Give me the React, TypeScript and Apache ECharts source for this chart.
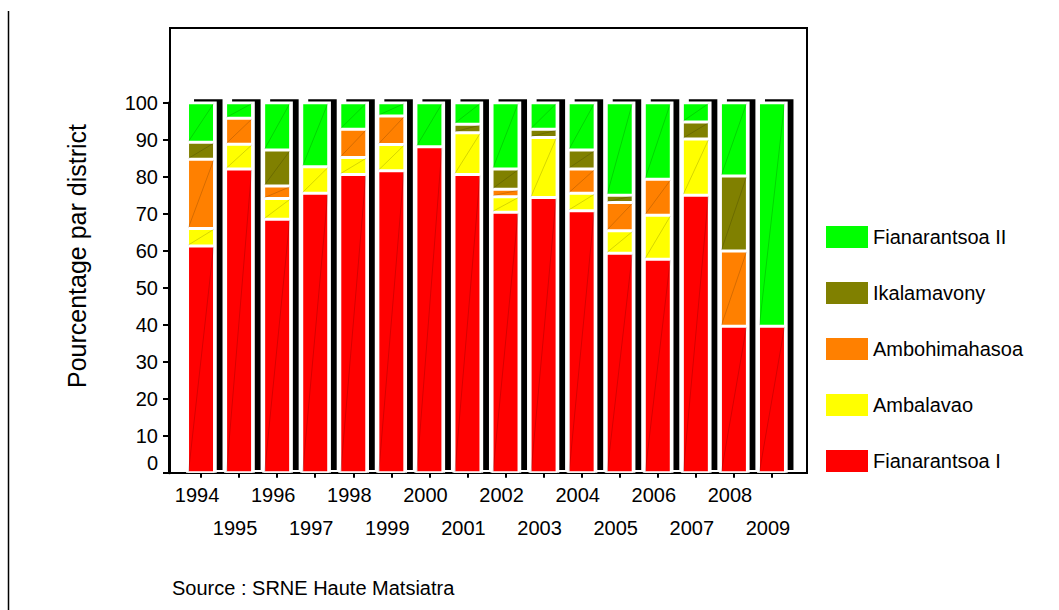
import React, { useEffect, useRef } from 'react';
import * as echarts from 'echarts';

const years = ['1994', '1995', '1996', '1997', '1998', '1999', '2000', '2001', '2002', '2003', '2004', '2005', '2006', '2007', '2008', '2009'];
const fianarantsoaI = [61.3, 82.1, 68.5, 75.5, 80.6, 81.6, 88.1, 80.6, 70.4, 74.4, 70.8, 59.3, 57.7, 75.0, 39.6, 39.6];
const ambalavao = [4.7, 6.7, 5.6, 7.2, 4.6, 7.1, 0, 11.3, 4.2, 16.2, 4.7, 6.1, 11.9, 15.2, 0, 0];
const ambohimahasoa = [18.7, 7.0, 3.4, 0, 7.6, 7.7, 0, 0, 2.0, 0, 6.6, 7.6, 9.7, 0, 20.3, 0];
const ikalamavony = [4.6, 0, 9.7, 0, 0, 0, 0, 2.3, 5.5, 2.2, 5.1, 2.0, 0, 4.6, 20.3, 0];
const fianarantsoaII = [10.7, 4.2, 12.8, 17.3, 7.2, 3.6, 11.9, 5.8, 17.9, 7.2, 12.8, 25.0, 20.7, 5.2, 19.8, 60.4];

const seriesNames = ['Fianarantsoa I', 'Ambalavao', 'Ambohimahasoa', 'Ikalamavony', 'Fianarantsoa II'];
const seriesValues = [fianarantsoaI, ambalavao, ambohimahasoa, ikalamavony, fianarantsoaII];
const seriesColors = ['#FF0000', '#FFFF00', '#FF8000', '#808000', '#00FF00'];
const legendOrder = ['Fianarantsoa II', 'Ikalamavony', 'Ambohimahasoa', 'Ambalavao', 'Fianarantsoa I'];

const yTitle = 'Pourcentage par district';
const sourceText = 'Source : SRNE Haute Matsiatra';

const FONT = '"Liberation Sans", Arial, sans-serif';
const BAR_W = 27;

export default function App() {
  const ref = useRef<HTMLDivElement>(null);

  useEffect(() => {
    document.body.style.margin = '0';
    if (!ref.current) return;
    const chart = echarts.init(ref.current, null, { renderer: 'svg' });

    const totals = years.map((_, i) => seriesValues.reduce((s, arr) => s + arr[i], 0));
    const segments: number[][] = [];
    years.forEach((_, i) => {
      let acc = 0;
      seriesValues.forEach((arr) => {
        const v = arr[i];
        if (v > 0.5) segments.push([i, acc, acc + v]);
        acc += v;
      });
    });

    const barSeries = seriesNames.map((name, k) => ({
      name,
      type: 'bar',
      stack: 'total',
      data: seriesValues[k],
      barWidth: BAR_W,
      z: 3,
      itemStyle: { color: seriesColors[k], borderColor: '#ffffff', borderWidth: 1.5 },
      emphasis: { disabled: true },
    }));

    const option: any = {
      animation: false,
      textStyle: { fontFamily: FONT },
      grid: { left: 182, right: 268, top: 102.7, bottom: 137.3, containLabel: false },
      legend: {
        data: legendOrder,
        orient: 'vertical',
        left: 826,
        top: 226,
        padding: 0,
        itemWidth: 42,
        itemHeight: 22,
        itemGap: 34,
        icon: 'rect',
        itemStyle: { borderWidth: 0 },
        textStyle: { fontSize: 20, color: '#000', fontFamily: FONT },
        selectedMode: false,
      },
      xAxis: {
        type: 'category',
        data: years,
        boundaryGap: true,
        axisLine: { show: true, lineStyle: { color: '#000', width: 2 } },
        axisTick: { show: true, alignWithLabel: true, length: 5, lineStyle: { color: '#000', width: 2 } },
        axisLabel: {
          interval: 0,
          fontSize: 20,
          color: '#000',
          fontFamily: FONT,
          margin: 6,
          lineHeight: 33,
          padding: [0, 8, 0, 0],
          formatter: (v: string, i: number) => (i % 2 ? '\n' + v : v),
        },
        splitLine: { show: false },
      },
      yAxis: {
        type: 'value',
        min: 0,
        max: 100,
        interval: 10,
        offset: 13,
        axisLine: { show: true, lineStyle: { color: '#000', width: 3 } },
        axisTick: { show: true, length: 6, lineStyle: { color: '#000', width: 2 } },
        axisLabel: {
          fontSize: 20,
          color: '#000',
          fontFamily: FONT,
          margin: 11,
          formatter: (v: number) => (v === 0 ? '{z|0}' : String(v)),
          rich: { z: { fontSize: 20, color: '#000', fontFamily: FONT, padding: [0, 0, 19, 0] } },
        },
        splitLine: { show: false },
      },
      graphic: [
        { type: 'line', shape: { x1: 8.5, y1: 11, x2: 8.5, y2: 610 }, style: { stroke: '#000', lineWidth: 1.5 }, z: 10 },
        { type: 'rect', shape: { x: 170, y: 28, width: 637, height: 445 }, style: { fill: 'none', stroke: '#000', lineWidth: 2 }, z: -1 },
        {
          type: 'text', x: 77, y: 256, rotation: Math.PI / 2,
          style: { text: yTitle, fontSize: 25, fill: '#000', fontFamily: FONT, align: 'center', verticalAlign: 'middle' },
        },
        {
          type: 'text', x: 172, y: 588,
          style: { text: sourceText, fontSize: 20, fill: '#000', fontFamily: FONT, align: 'left', verticalAlign: 'middle' },
        },
      ],
      series: [
        {
          type: 'custom',
          name: 'shadow',
          z: 1,
          silent: true,
          data: years.map((_, i) => [i, totals[i]]),
          encode: { x: 0, y: 1 },
          renderItem: (params: any, api: any) => {
            const i = api.value(0);
            const top = api.coord([i, api.value(1)]);
            const base = api.coord([i, 0]);
            const cx = top[0];
            return {
              type: 'group',
              children: [
                { type: 'rect', shape: { x: cx - 7, y: top[1] - 3.5, width: 28.5, height: base[1] - top[1] + 0.8 }, style: { fill: '#000' } },
                { type: 'rect', shape: { x: cx - 15, y: top[1] - 1.3, width: 30.7, height: base[1] - top[1] + 1.3 }, style: { fill: '#fff' } },
              ],
            };
          },
        },
        ...barSeries,
        {
          type: 'custom',
          name: 'diag',
          z: 5,
          silent: true,
          data: segments,
          encode: { x: 0, y: [1, 2] },
          renderItem: (params: any, api: any) => {
            const i = api.value(0);
            const p0 = api.coord([i, api.value(1)]);
            const p1 = api.coord([i, api.value(2)]);
            const cx = p0[0];
            return {
              type: 'line',
              shape: { x1: cx - BAR_W / 2 + 1, y1: p0[1] - 1, x2: cx + BAR_W / 2 - 1, y2: p1[1] + 1 },
              style: { stroke: 'rgba(0,0,0,0.28)', lineWidth: 0.6 },
            };
          },
        },
      ],
    };

    chart.setOption(option);
    return () => chart.dispose();
  }, []);

  return <div ref={ref} style={{ width: 1059, height: 610 }} />;
}
